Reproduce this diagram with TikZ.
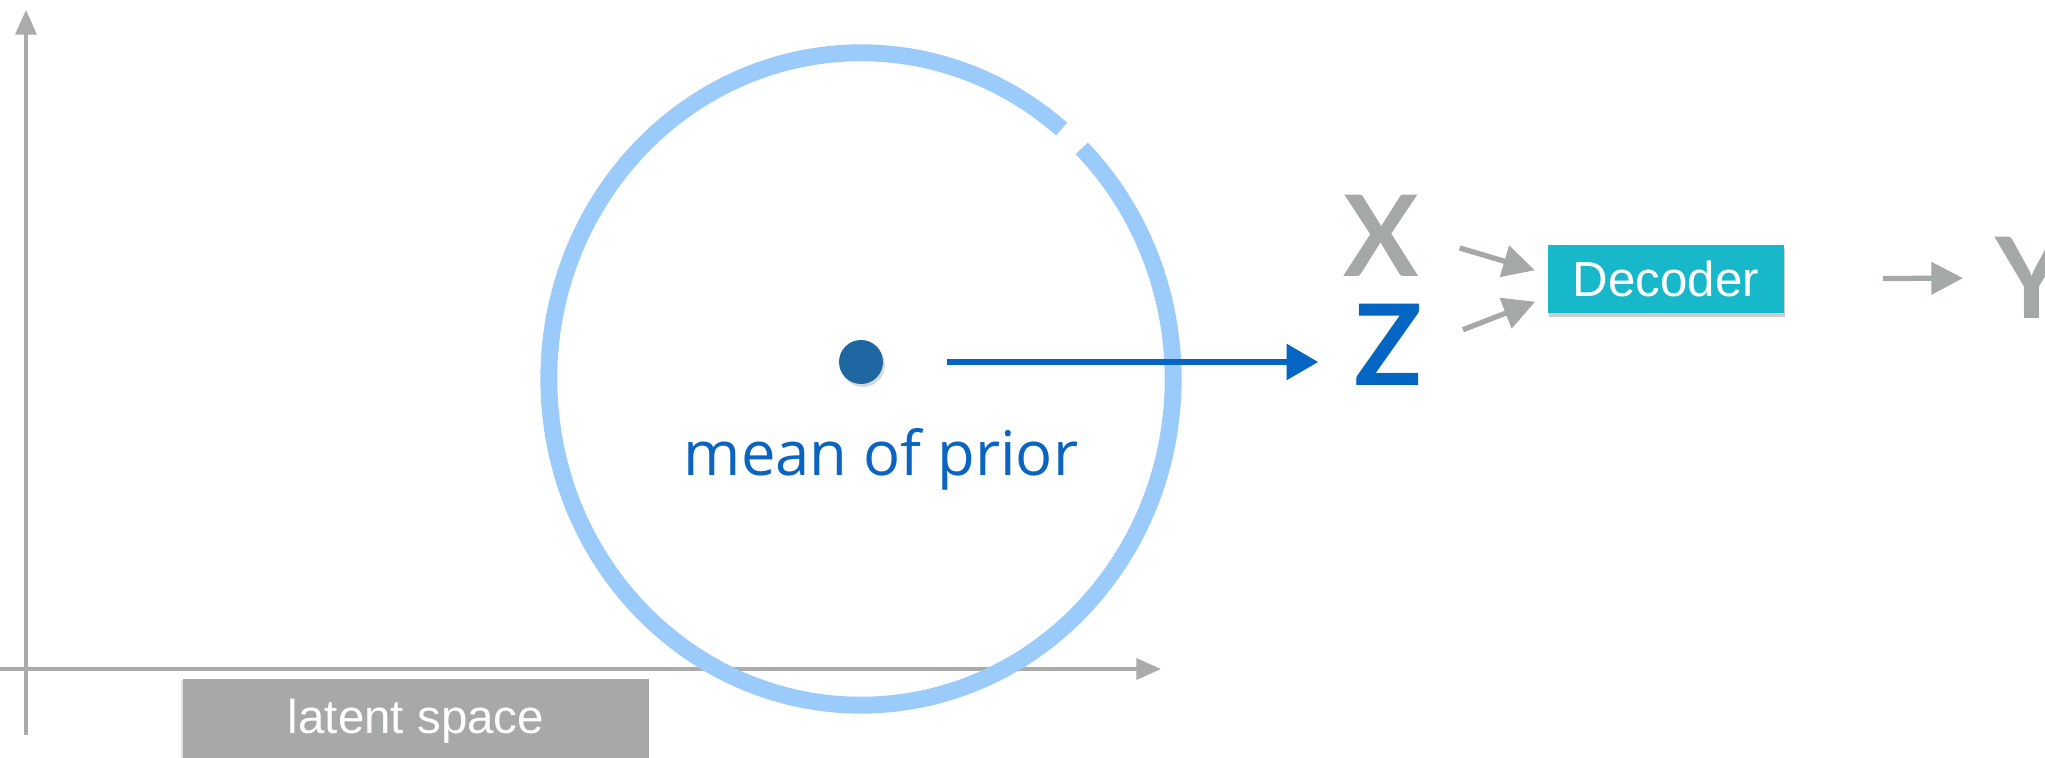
\documentclass[tikz,border=0pt]{standalone}
\usepackage{fontspec}
\setmainfont{Liberation Sans}
\newfontfamily\priorfont{Open Sans}
\newfontfamily\handfont{Lato}
\usetikzlibrary{positioning, arrows.meta, shadows}
\definecolor{pRing}{HTML}{9ACBFA}
\definecolor{pMean}{HTML}{1E67A3}
\definecolor{pText}{HTML}{0A64C0}
\definecolor{zBlue}{HTML}{0565C2}
\definecolor{dTeal}{HTML}{17B8CA}
\definecolor{aGray}{HTML}{ABABAB}
\definecolor{bGray}{HTML}{A6A9A7}
\definecolor{lGray}{HTML}{A4A8A6}
\tikzset{
  axisline/.style={draw=aGray, line width=0.9pt, -{Triangle[length=7pt,width=6pt]}},
  namebox/.style={fill=bGray, text=white, minimum width=4.66cm, minimum height=0.84cm,
    inner sep=0pt, font=\fontsize{13.5}{16}\selectfont,
    drop shadow={shadow xshift=-0.02cm, shadow yshift=-0.01cm, opacity=0.12, fill=black}},
  decbox/.style={fill=dTeal, text=white, minimum width=2.36cm, minimum height=0.68cm,
    inner sep=0pt, font=\fontsize{14}{16}\selectfont,
    drop shadow={shadow xshift=0.01cm, shadow yshift=-0.04cm, opacity=0.2, fill=black}},
  varletter/.style={font=\handfont\bfseries\fontsize{32}{32}\selectfont, inner sep=0pt},
  greyarrow/.style={draw=lGray, line width=1.5pt, -{Triangle[length=9pt,width=9pt]}},
  bluearrow/.style={draw=zBlue, line width=1.6pt, -{Triangle[length=9pt,width=10pt]}},
}
\begin{document}
\begin{tikzpicture}[x=0.01cm, y=0.01cm]
  \useasboundingbox (0,0) rectangle (2045,758);
  % axes of the latent space
  \coordinate (xstart) at (0,89);
  \coordinate (xend) at (1161,89);
  \coordinate (ystart) at (26,23);
  \coordinate (yend) at (26,748);
  \draw[axisline] (xstart) -- (xend);
  \draw[axisline] (ystart) -- (yend);
  \node[namebox] (latent) at (416,37) {latent space};
  % prior
  \coordinate (prior) at (861,379);
  \draw[pRing, line width=4.8pt] (prior) ++(50:3.12cm and 3.26cm)
    arc[start angle=50, end angle=405, x radius=3.12cm, y radius=3.26cm];
  \node[circle, fill=pMean, minimum size=0.44cm, inner sep=0pt,
    drop shadow={shadow xshift=0.02cm, shadow yshift=-0.03cm, opacity=0.15, fill=black}]
    (mean) at (861,396) {};
  \node[text=pText, font=\priorfont\fontsize{17.5}{20}\selectfont] (meantext) at (881,299) {mean of prior};
  % decoder side
  \node[varletter, text=lGray] (xlet) at (1381,522) {X};
  \node[varletter, text=zBlue] (zlet) at (1389,413) {Z};
  \node[decbox] (dec) at (1666,479) {Decoder};
  \node[varletter, text=lGray, anchor=west] (ylet) at (1995,480) {Y};
  \draw[bluearrow, shorten <=0.63cm, shorten >=0.36cm] (mean.east) -- (mean.east -| zlet.west);
  \draw[greyarrow, shorten <=0.42cm, shorten >=0.13cm] (xlet.east) -- ([yshift=0.05cm]dec.west);
  \draw[greyarrow, shorten <=0.42cm, shorten >=0.13cm] (zlet.east) -- ([yshift=-0.18cm]dec.west);
  \draw[greyarrow, shorten <=0.98cm, shorten >=0.32cm] (dec.east) -- (ylet.west);
\end{tikzpicture}
\end{document}
